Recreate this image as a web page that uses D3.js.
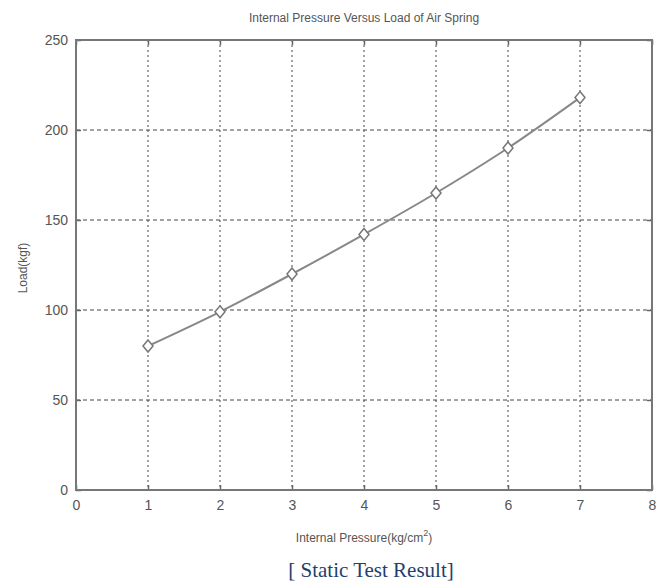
<!DOCTYPE html>
<html>
<head>
<meta charset="utf-8">
<script src="https://cdn.jsdelivr.net/npm/d3@7"></script>
<style>
  body { margin: 0; background: #fff; }
  svg { display: block; }
  .axis text { font-family: "Liberation Sans", Arial, sans-serif; font-size: 14px; fill: #555; }
</style>
</head>
<body>
<svg id="chart"></svg>
<script>
let w = 668;
let h = 584;

// data
let pressure = [1, 2, 3, 4, 5, 6, 7];
let load = [80, 99, 120, 142, 165, 190, 218];
let xTicks = [0, 1, 2, 3, 4, 5, 6, 7, 8];
let yTicks = [0, 50, 100, 150, 200, 250];

let margin = {left: 76, right: 16, top: 40, bottom: 94};

let chart1 = d3.select("#chart")
  .attr("width", w)
  .attr("height", h);

let xScale = d3.scaleLinear()
  .domain([0, 8])
  .range([margin.left, w - margin.right]);

let yScale = d3.scaleLinear()
  .domain([0, 250])
  .range([h - margin.bottom, margin.top]);

let data = pressure.map((p, i) => ({x: p, y: load[i]}));

// grid
chart1.append("g")
  .selectAll("line")
  .data(xTicks.slice(1, -1))
  .join("line")
  .attr("x1", d => xScale(d))
  .attr("x2", d => xScale(d))
  .attr("y1", yScale(250))
  .attr("y2", yScale(0))
  .attr("stroke", "#444")
  .attr("stroke-width", 1)
  .attr("stroke-dasharray", "2,3");

chart1.append("g")
  .selectAll("line")
  .data(yTicks.slice(1, -1))
  .join("line")
  .attr("x1", xScale(0))
  .attr("x2", xScale(8))
  .attr("y1", d => yScale(d))
  .attr("y2", d => yScale(d))
  .attr("stroke", "#444")
  .attr("stroke-width", 1)
  .attr("stroke-dasharray", "4,3");

// axes (ticks point inward, like the original)
let xAxis = d3.axisBottom(xScale).tickValues(xTicks).tickSize(-5).tickPadding(10);
let yAxis = d3.axisLeft(yScale).tickValues(yTicks).tickSize(-5).tickPadding(8);
let xTop = d3.axisTop(xScale).tickValues(xTicks).tickSize(-5).tickFormat("");
let yRight = d3.axisRight(yScale).tickValues(yTicks).tickSize(-5).tickFormat("");

let xAxisGroup = chart1.append("g")
  .attr("class", "axis")
  .attr("transform", `translate(0, ${yScale(0)})`)
  .call(xAxis);

let yAxisGroup = chart1.append("g")
  .attr("class", "axis")
  .attr("transform", `translate(${xScale(0)}, 0)`)
  .call(yAxis);

chart1.append("g")
  .attr("class", "axis")
  .attr("transform", `translate(0, ${yScale(250)})`)
  .call(xTop);

chart1.append("g")
  .attr("class", "axis")
  .attr("transform", `translate(${xScale(8)}, 0)`)
  .call(yRight);

chart1.selectAll(".axis .domain").remove();
chart1.selectAll(".axis .tick line").attr("stroke", "#666").attr("stroke-width", 1.5);

// box
chart1.append("rect")
  .attr("x", xScale(0))
  .attr("y", yScale(250))
  .attr("width", xScale(8) - xScale(0))
  .attr("height", yScale(0) - yScale(250))
  .attr("fill", "none")
  .attr("stroke", "#777")
  .attr("stroke-width", 2);

// line
let line = d3.line()
  .x(d => xScale(d.x))
  .y(d => yScale(d.y))
  .curve(d3.curveMonotoneX);

chart1.append("path")
  .datum(data)
  .attr("d", line)
  .attr("fill", "none")
  .attr("stroke", "#888")
  .attr("stroke-width", 2);

// diamond markers
chart1.append("g")
  .selectAll("path")
  .data(data)
  .join("path")
  .attr("transform", d => `translate(${xScale(d.x)}, ${yScale(d.y)})`)
  .attr("d", "M0,-6L5,0L0,6L-5,0Z")
  .attr("fill", "#fff")
  .attr("stroke", "#777")
  .attr("stroke-width", 1.5);

// titles
chart1.append("text")
  .attr("x", (xScale(0) + xScale(8)) / 2)
  .attr("y", 22)
  .attr("text-anchor", "middle")
  .attr("font-family", "Liberation Sans, Arial, sans-serif")
  .attr("font-size", 12)
  .attr("fill", "#555")
  .text("Internal Pressure Versus Load of Air Spring");

chart1.append("text")
  .attr("transform", `translate(27, 268) rotate(-90)`)
  .attr("text-anchor", "middle")
  .attr("font-family", "Liberation Sans, Arial, sans-serif")
  .attr("font-size", 12)
  .attr("fill", "#555")
  .text("Load(kgf)");

let xLabel = chart1.append("text")
  .attr("x", (xScale(0) + xScale(8)) / 2)
  .attr("y", 542)
  .attr("text-anchor", "middle")
  .attr("font-family", "Liberation Sans, Arial, sans-serif")
  .attr("font-size", 12)
  .attr("fill", "#555");
xLabel.append("tspan").text("Internal Pressure(kg/cm");
xLabel.append("tspan").attr("dy", -6).attr("font-size", 9).text("2");
xLabel.append("tspan").attr("dy", 6).text(")");

chart1.append("text")
  .attr("x", 371)
  .attr("y", 577)
  .attr("text-anchor", "middle")
  .attr("font-family", "Liberation Serif, Times New Roman, serif")
  .attr("font-size", 21)
  .attr("fill", "#1f3f70")
  .text("[ Static Test Result]");
</script>
</body>
</html>
